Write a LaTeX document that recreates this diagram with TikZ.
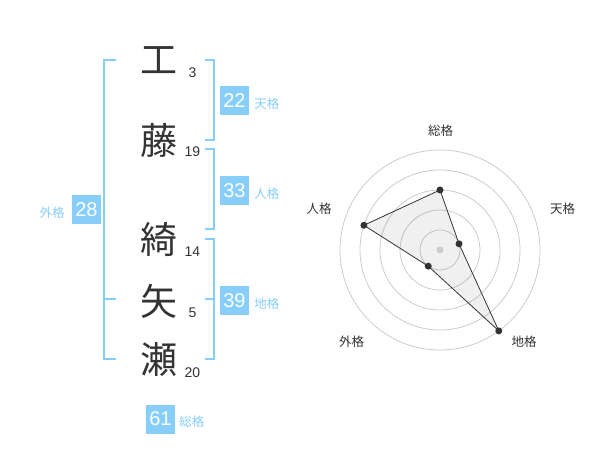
\documentclass[tikz,border=0pt]{standalone}
\usepackage{fontspec}
\setmainfont{Liberation Sans}
\newfontfamily\jpfont{Noto Sans CJK JP}
\usetikzlibrary{positioning}
\definecolor{kakublue}{RGB}{135,206,250}
\definecolor{inkgray}{RGB}{51,51,51}
\definecolor{ringgray}{RGB}{204,204,204}
\tikzset{
  kanji/.style={text=inkgray, font=\jpfont\fontsize{37}{37}\selectfont, inner sep=0pt},
  strokes/.style={text=inkgray, font=\fontsize{14}{14}\selectfont, inner sep=0pt, anchor=base},
  kakubox/.style={fill=kakublue, text=white, minimum size=29pt, inner sep=0pt, font=\fontsize{20}{20}\selectfont},
  kakulabel/.style={text=kakublue, font=\jpfont\fontsize{12.5}{12.5}\selectfont, inner sep=0pt},
  bracket/.style={kakublue, line width=2pt},
  ring/.style={ringgray, line width=0.8pt},
  axislabel/.style={text=inkgray, font=\jpfont\fontsize{12.5}{12.5}\selectfont, inner sep=0pt},
  dot/.style={circle, fill=inkgray, minimum size=7pt, inner sep=0pt},
}
\begin{document}
\begin{tikzpicture}[x=1pt, y=-1pt]
\useasboundingbox (0,0) rectangle (600,470);
% Name characters and stroke counts
\node[kanji] (k1) at (159,59.7) {工};
\node[kanji] (k2) at (159,140) {藤};
\node[kanji] (k3) at (159,239.5) {綺};
\node[kanji] (k4) at (159,301.5) {矢};
\node[kanji] (k5) at (159,359.5) {瀬};
\node[strokes] (n1) at (192.5,77.7) {3};
\node[strokes] (n2) at (192.5,157) {19};
\node[strokes] (n3) at (192.5,257) {14};
\node[strokes] (n4) at (192.5,318) {5};
\node[strokes] (n5) at (192.5,377.7) {20};
% Brackets
\draw[bracket] (116,60) -| (104,359) -- (116,359);
\draw[bracket] (104,299) -- (116,299);
\draw[bracket] (205,60) -| (214,140) -- (205,140);
\draw[bracket] (205,149) -| (214,229) -- (205,229);
\draw[bracket] (205,239) -| (214,359) -- (205,359);
\draw[bracket] (205,299) -- (214,299);
% Kaku values
\node[kakubox] (b22) at (234.5,100.5) {22};
\node[kakubox] (b33) at (234.5,190.5) {33};
\node[kakubox] (b39) at (234.5,300.5) {39};
\node[kakubox] (b28) at (86.5,210) {28};
\node[kakubox] (b61) at (160.5,419) {61};
\node[kakulabel, right=5pt of b22, yshift=-3.5pt] (l22) {天格};
\node[kakulabel, right=5pt of b33, yshift=-3.5pt] (l33) {人格};
\node[kakulabel, right=5pt of b39, yshift=-3.5pt] (l39) {地格};
\node[kakulabel, left=7pt of b28, yshift=-3pt] (l28) {外格};
\node[kakulabel, right=4pt of b61, yshift=-3pt] (l61) {総格};
% Radar chart
\begin{scope}[shift={(440,250)}]
\foreach \r in {20,40,...,100}
  \draw[ring] (0,0) circle[radius=\r pt];
\coordinate (soukaku) at (90:60pt);
\coordinate (tenkaku) at (18:20pt);
\coordinate (chikaku) at (-54:100pt);
\coordinate (gaikaku) at (-126:20pt);
\coordinate (jinkaku) at (162:80pt);
\draw[inkgray, line width=0.8pt, fill=black, fill opacity=0.06]
  (soukaku) -- (tenkaku) -- (chikaku) -- (gaikaku) -- (jinkaku) -- cycle;
\node[dot, fill=ringgray] (center) at (0,0) {};
\foreach \p in {soukaku,tenkaku,chikaku,gaikaku,jinkaku}
  \node[dot] (d-\p) at (\p) {};
\end{scope}
\node[axislabel] (a1) at (440.7,130.5) {総格};
\node[axislabel] (a2) at (562.5,208.5) {天格};
\node[axislabel] (a3) at (524,342) {地格};
\node[axislabel] (a4) at (351.5,342) {外格};
\node[axislabel] (a5) at (319,208.5) {人格};
\end{tikzpicture}
\end{document}
